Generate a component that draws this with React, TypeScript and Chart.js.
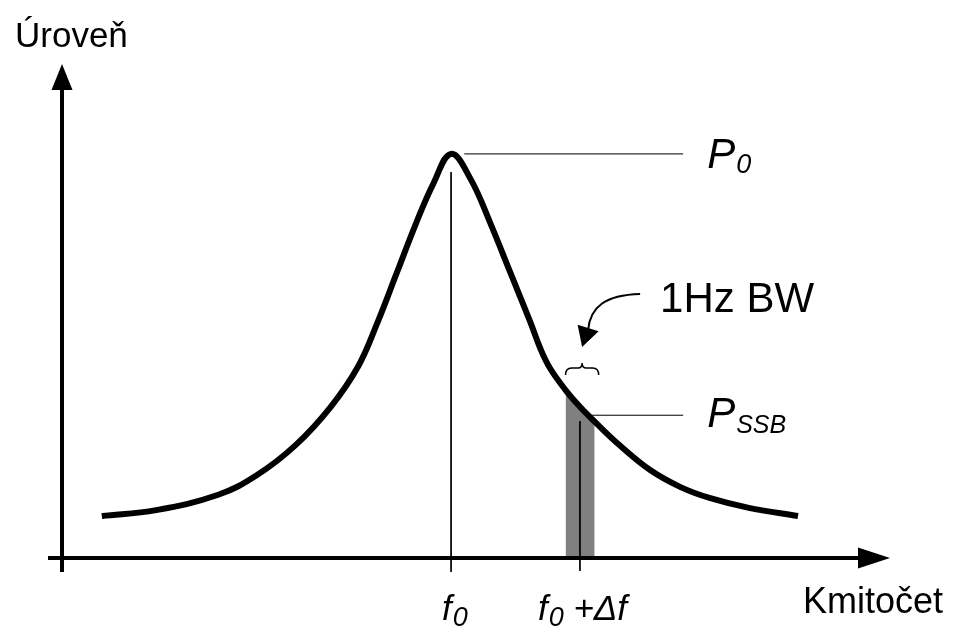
import React, { useEffect, useRef } from "react";
import { Chart, registerables } from "chart.js";

Chart.register(...registerables);

// ---- data (offset from carrier in arbitrary units, level in arbitrary units) ----
const curveOffsets = [-9, -7.6, -6, -5, -4, -3.1, -2.4, -1.9, -1.4, -0.9, -0.45, 0, 0.49, 1.0, 1.52, 2.04, 2.3, 2.55, 2.95, 3.32, 3.7, 4.36, 5.13, 5.9, 6.68, 7.7, 8.94];
const curveLevels = [8.5, 9.7, 12.8, 16.8, 22.9, 30.6, 38.7, 47.6, 57.7, 67.8, 75.9, 81.8, 76.9, 68.0, 57.9, 47.8, 42.4, 38.4, 34.0, 30.6, 27.6, 22.7, 17.8, 14.4, 12.1, 10.1, 8.5];
const bandEdges = [2.95, 3.7];
const carrierOffset = 0;
const deltaF = 3.32;
const p0Level = 81.8;
const pssbLevel = 28.9;
const refLineStarts = [0.34, 3.53];
const refLineEnd = 5.98;
const xTickLabels = ["f0", "f0 +Δf"];
const yAxisTitle = "Úroveň";
const xAxisTitle = "Kmitočet";
const bwLabel = "1Hz BW";

const FONT = "'Liberation Sans', Arial, sans-serif";

const curveData = curveOffsets.map((x, i) => ({ x, y: curveLevels[i] }));
const bandData = curveData.filter((p) => p.x >= bandEdges[0] - 1e-9 && p.x <= bandEdges[1] + 1e-9);
const levelAt = (x: number) => {
  for (let i = 0; i < curveOffsets.length - 1; i++) {
    if (x >= curveOffsets[i] && x <= curveOffsets[i + 1]) {
      const t = (x - curveOffsets[i]) / (curveOffsets[i + 1] - curveOffsets[i]);
      return curveLevels[i] + t * (curveLevels[i + 1] - curveLevels[i]);
    }
  }
  return 0;
};

const decorations = {
  id: "decorations",
  afterDatasetsDraw(chart: any) {
    const ctx = chart.ctx as CanvasRenderingContext2D;
    const xs = chart.scales.x;
    const ys = chart.scales.y;
    const area = chart.chartArea;
    const x0 = xs.getPixelForValue(xs.min);
    const y0 = ys.getPixelForValue(0);
    ctx.save();
    ctx.strokeStyle = "#000";
    ctx.fillStyle = "#000";
    // y axis
    ctx.lineWidth = 4;
    ctx.beginPath();
    ctx.moveTo(x0 - 1, y0 + 14);
    ctx.lineTo(x0 - 1, area.top + 20);
    ctx.stroke();
    ctx.beginPath();
    ctx.moveTo(x0 - 1, area.top);
    ctx.lineTo(x0 - 11.5, area.top + 26);
    ctx.lineTo(x0 + 9.5, area.top + 26);
    ctx.closePath();
    ctx.fill();
    // x axis
    ctx.beginPath();
    ctx.moveTo(x0 - 15, y0);
    ctx.lineTo(area.right - 25, y0);
    ctx.stroke();
    ctx.beginPath();
    ctx.moveTo(area.right, y0);
    ctx.lineTo(area.right - 32, y0 - 10.5);
    ctx.lineTo(area.right - 32, y0 + 10.5);
    ctx.closePath();
    ctx.fill();

    // axis titles
    ctx.textBaseline = "alphabetic";
    ctx.textAlign = "left";
    ctx.font = `35px ${FONT}`;
    ctx.fillText(yAxisTitle, x0 - 48, area.top - 17);
    ctx.textAlign = "right";
    ctx.font = `36px ${FONT}`;
    ctx.fillText(xAxisTitle, area.right + 53, y0 + 55);
    ctx.textAlign = "left";

    // tick labels with subscripts
    const drawSub = (x: number, base: number, main: string, sub: string, rest: string, mainSize: number, subSize: number, subDrop: number) => {
      ctx.font = `italic ${mainSize}px ${FONT}`;
      ctx.fillText(main, x, base);
      let cx = x + ctx.measureText(main).width + 1;
      ctx.font = `italic ${subSize}px ${FONT}`;
      ctx.fillText(sub, cx, base + subDrop);
      cx += ctx.measureText(sub).width;
      if (rest) {
        ctx.font = `italic ${mainSize}px ${FONT}`;
        ctx.fillText(rest, cx, base);
      }
    };
    const xf0 = xs.getPixelForValue(carrierOffset);
    const xdf = xs.getPixelForValue(deltaF);
    const tickBase = y0 + 62;
    drawSub(xf0 - 9, tickBase, xTickLabels[0].charAt(0), xTickLabels[0].charAt(1), "", 35, 27, 6);
    drawSub(xdf - 42, tickBase, xTickLabels[1].charAt(0), xTickLabels[1].charAt(1), xTickLabels[1].slice(2), 35, 27, 6);

    // level labels
    const xEnd = xs.getPixelForValue(refLineEnd);
    const yP0 = ys.getPixelForValue(p0Level);
    const ySSB = ys.getPixelForValue(pssbLevel);
    drawSub(xEnd + 24, yP0 + 14, "P", "0", "", 42, 27, 5);
    drawSub(xEnd + 24, ySSB + 12, "P", "SSB", "", 42, 25, 6);

    // brace over the 1 Hz band
    const bl = xs.getPixelForValue(bandEdges[0]);
    const br = xs.getPixelForValue(bandEdges[1]) + 4;
    const bm = (bl + br) / 2;
    const by = ys.getPixelForValue(levelAt(bandEdges[0])) - 22;
    ctx.lineWidth = 1.5;
    ctx.beginPath();
    ctx.moveTo(bl, by + 7);
    ctx.quadraticCurveTo(bl, by, bl + 6, by);
    ctx.lineTo(bm - 4, by);
    ctx.quadraticCurveTo(bm, by, bm, by - 5);
    ctx.quadraticCurveTo(bm, by, bm + 4, by);
    ctx.lineTo(br - 6, by);
    ctx.quadraticCurveTo(br, by, br, by + 7);
    ctx.stroke();

    // curved arrow from label to brace
    const tipX = bm;
    const tipY = by - 21;
    const baseX = tipX + 6;
    const baseY = tipY - 19;
    ctx.lineWidth = 2;
    ctx.beginPath();
    ctx.moveTo(tipX + 58, tipY - 53);
    ctx.bezierCurveTo(tipX + 23, tipY - 52, tipX + 8, tipY - 40, baseX, baseY + 2);
    ctx.stroke();
    const dx = tipX - baseX, dy = tipY - baseY;
    const len = Math.hypot(dx, dy);
    const nx = -dy / len, ny = dx / len;
    ctx.beginPath();
    ctx.moveTo(tipX, tipY);
    ctx.lineTo(baseX + nx * 11, baseY + ny * 11);
    ctx.lineTo(baseX - nx * 11, baseY - ny * 11);
    ctx.closePath();
    ctx.fill();

    ctx.font = `42px ${FONT}`;
    ctx.fillText(bwLabel, tipX + 78, tipY - 35);
    ctx.restore();
  },
};

export default function App() {
  const ref = useRef<HTMLCanvasElement | null>(null);
  useEffect(() => {
    if (!ref.current) return;
    const thin = { borderColor: "#000", borderWidth: 1, pointRadius: 0, fill: false, clip: false as any, order: 1, tension: 0 };
    const chart = new Chart(ref.current, {
      type: "line",
      data: {
        datasets: [
          {
            label: "curve",
            data: curveData,
            borderColor: "#000",
            borderWidth: 6,
            pointRadius: 0,
            tension: 0.4,
            fill: false,
            borderCapStyle: "butt",
            borderJoinStyle: "round",
            order: 0,
          },
          {
            label: "band",
            data: bandData,
            borderWidth: 0,
            borderColor: "rgba(0,0,0,0)",
            backgroundColor: "#808080",
            pointRadius: 0,
            fill: "origin",
            tension: 0,
            order: 2,
          },
          { label: "f0", data: [{ x: carrierOffset, y: p0Level - 3.7 }, { x: carrierOffset, y: -2.8 }], ...thin },
          { label: "df", data: [{ x: deltaF, y: pssbLevel - 1.2 }, { x: deltaF, y: -2.6 }], ...thin },
          { label: "p0", data: [{ x: refLineStarts[0], y: p0Level }, { x: refLineEnd, y: p0Level }], ...thin },
          { label: "pssb", data: [{ x: refLineStarts[1], y: pssbLevel }, { x: refLineEnd, y: pssbLevel }], ...thin },
        ],
      },
      options: {
        animation: false,
        responsive: false,
        maintainAspectRatio: false,
        layout: { padding: { left: 63, right: 65, top: 64, bottom: 78 } },
        plugins: { legend: { display: false }, tooltip: { enabled: false }, title: { display: false } },
        scales: {
          x: { type: "linear", min: -10, max: 11.31, display: false },
          y: { type: "linear", min: 0, max: 100, display: false },
        },
      },
      plugins: [decorations],
    });
    return () => chart.destroy();
  }, []);
  return (
    <div style={{ position: "fixed", left: 0, top: 0, width: 955, height: 636, background: "#fff" }}>
      <canvas ref={ref} width={955} height={636} style={{ display: "block" }} />
    </div>
  );
}
